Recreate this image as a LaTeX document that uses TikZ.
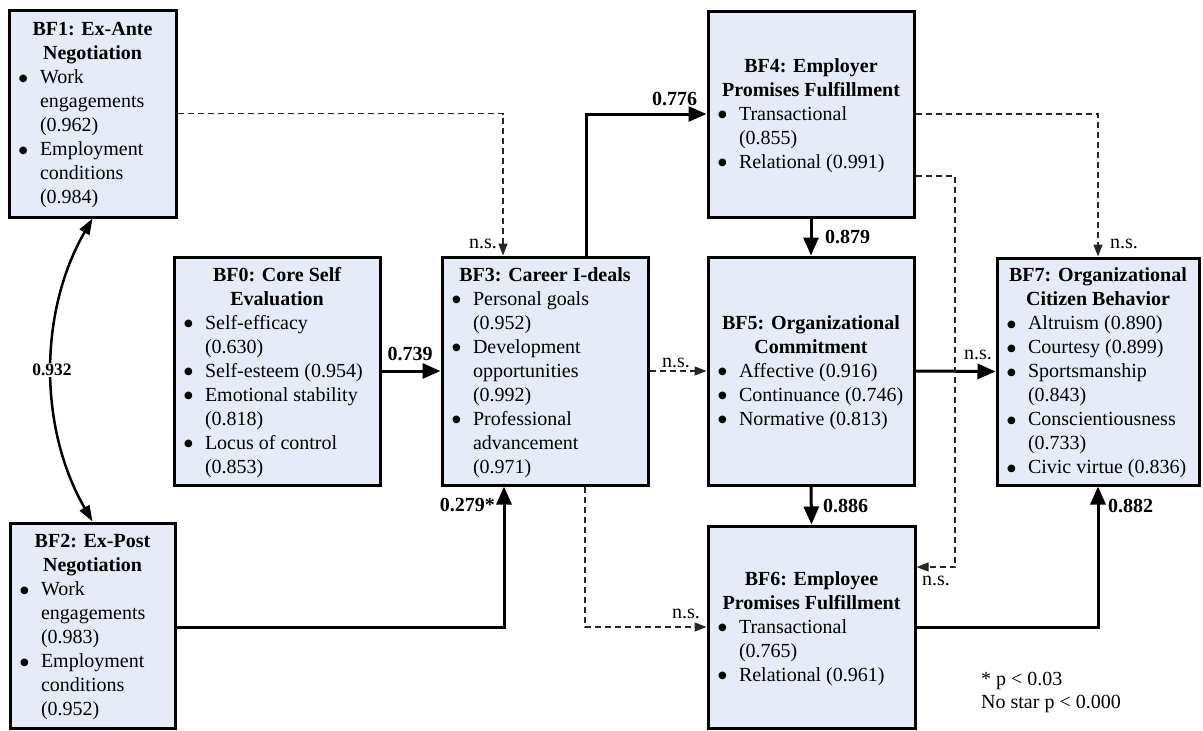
\documentclass[tikz,border=0pt]{standalone}
\usepackage{fontspec}
\setmainfont{Liberation Serif}
\newfontfamily\dejavu{DejaVu Sans}
\usetikzlibrary{arrows.meta}
\definecolor{boxfill}{RGB}{230,236,247}
\newcommand{\bul}{\raisebox{2.5pt}[0pt][0pt]{\dejavu\fontsize{10}{10}\selectfont ●}}
\newcommand{\bxt}[3]{%
  \begin{minipage}{#1}\centering\bfseries\rule{0pt}{20pt}#2\par
  \raggedright\mdseries\noindent\begin{tabular}[t]{@{}p{21pt}@{}l@{}}#3\end{tabular}\end{minipage}}
\tikzset{
  box/.style={draw=black, line width=3pt, fill=boxfill, inner sep=0pt,
    font=\fontsize{20}{24}\selectfont},
  sarrow/.style={line width=3pt, -{Triangle[length=18pt,width=15pt]}},
  darrow/.style={line width=1.3pt, draw=black!85, dash pattern=on 6pt off 4pt,
    -{Triangle[length=12pt,width=9pt]}},
  curarrow/.style={line width=2.5pt, {Triangle[length=16pt,width=11pt]}-{Triangle[length=16pt,width=11pt]}},
  lbl/.style={inner sep=0pt, font=\fontsize{20}{24}\selectfont\bfseries},
  nslbl/.style={inner sep=0pt, font=\fontsize{20}{24}\selectfont},
}
\begin{document}
\begin{tikzpicture}[x=1pt,y=-1pt]
\useasboundingbox (0,0) rectangle (1203,731);

% boxes
\node[box, minimum width=167pt, minimum height=207pt] (bf1) at (92.5,113.5)
  {\bxt{147pt}{BF1: Ex-Ante\\Negotiation}{%
   \bul & Work\\ & engagements\\ & (0.962)\\
   \bul & Employment\\ & conditions\\ & (0.984)}};
\node[box, minimum width=165pt, minimum height=205pt] (bf2) at (92.5,625.5)
  {\bxt{145pt}{BF2: Ex-Post\\Negotiation}{%
   \bul & Work\\ & engagements\\ & (0.983)\\
   \bul & Employment\\ & conditions\\ & (0.952)}};
\node[box, minimum width=206pt, minimum height=228pt] (bf0) at (277,371)
  {\bxt{186pt}{BF0: Core Self\\Evaluation}{%
   \bul & Self-efficacy\\ & (0.630)\\
   \bul & Self-esteem (0.954)\\
   \bul & Emotional stability\\ & (0.818)\\
   \bul & Locus of control\\ & (0.853)}};
\node[box, minimum width=206pt, minimum height=228pt] (bf3) at (545,371)
  {\bxt{186pt}{BF3: Career I-deals}{%
   \bul & Personal goals\\ & (0.952)\\
   \bul & Development\\ & opportunities\\ & (0.992)\\
   \bul & Professional\\ & advancement\\ & (0.971)}};
\node[box, minimum width=206pt, minimum height=206pt] (bf4) at (811,114)
  {\bxt{186pt}{BF4: Employer\\Promises Fulfillment}{%
   \bul & Transactional\\ & (0.855)\\
   \bul & Relational (0.991)}};
\node[box, minimum width=206pt, minimum height=228pt] (bf5) at (811,371)
  {\bxt{186pt}{BF5: Organizational\\Commitment}{%
   \bul & Affective (0.916)\\
   \bul & Continuance (0.746)\\
   \bul & Normative (0.813)}};
\node[box, minimum width=207pt, minimum height=202pt] (bf6) at (811.5,627)
  {\bxt{187pt}{BF6: Employee\\Promises Fulfillment}{%
   \bul & Transactional\\ & (0.765)\\
   \bul & Relational (0.961)}};
\node[box, minimum width=202pt, minimum height=227pt] (bf7) at (1098,371.5)
  {\bxt{182pt}{BF7: Organizational\\Citizen Behavior}{%
   \bul & Altruism (0.890)\\
   \bul & Courtesy (0.899)\\
   \bul & Sportsmanship\\ & (0.843)\\
   \bul & Conscientiousness\\ & (0.733)\\
   \bul & Civic virtue (0.836)}};

% solid connectors
\draw[sarrow] (bf0.east) -- (bf3.west);
\draw[sarrow] ([xshift=41pt]bf3.north) |- (bf4.west);
\draw[sarrow] (bf4.south) -- (bf5.north);
\draw[sarrow] (bf5.south) -- (bf6.north);
\draw[sarrow] (bf5.east) -- (bf7.west);
\draw[sarrow] (bf6.east) -| (bf7.south);
\draw[sarrow] ([yshift=-2pt]bf2.east) -| ([xshift=-41pt]bf3.south);
\draw[curarrow] (bf1.south) .. controls (38.5,311.7) and (38.5,428.3) .. (bf2.north)
  node[midway, fill=white, inner sep=1pt, font=\fontsize{17.5}{20}\selectfont\bfseries] (l932) {0.932};

% dashed connectors
\draw[darrow] (bf1.east) -| ([xshift=-42pt]bf3.north);
\draw[darrow] (bf3.east) -- (bf5.west);
\draw[darrow] ([xshift=40pt]bf3.south) |- (bf6.west);
\draw[darrow] (bf4.east) -| (bf7.north);
\coordinate (c1) at (955,567);
\draw[darrow] ([yshift=-62pt]bf4.east) -| (c1) -- (c1 -| bf6.east);

% labels
\node[lbl, anchor=base] (l739) at (410,360) {0.739};
\node[lbl, anchor=base] (l776) at (674.5,105) {0.776};
\node[lbl, anchor=base west] (l879) at (825,243) {0.879};
\node[lbl, anchor=base west] (l886) at (823,512) {0.886};
\node[lbl, anchor=base west] (l882) at (1108,512) {0.882};
\node[lbl, anchor=base east] (l279) at (495,511) {0.279*};
\node[nslbl, anchor=base east] (ns1) at (497,248) {n.s.};
\node[nslbl, anchor=base] (ns2) at (676,367) {n.s.};
\node[nslbl, anchor=base east] (ns3) at (992,359) {n.s.};
\node[nslbl, anchor=base west] (ns4) at (1110,248) {n.s.};
\node[nslbl, anchor=base west] (ns5) at (922,585) {n.s.};
\node[nslbl, anchor=base east] (ns6) at (700,618) {n.s.};

% legend
\node[nslbl, anchor=base west] (leg1) at (981,685) {* p < 0.03};
\node[nslbl, anchor=base west] (leg2) at (981,708) {No star p < 0.000};
\end{tikzpicture}
\end{document}
